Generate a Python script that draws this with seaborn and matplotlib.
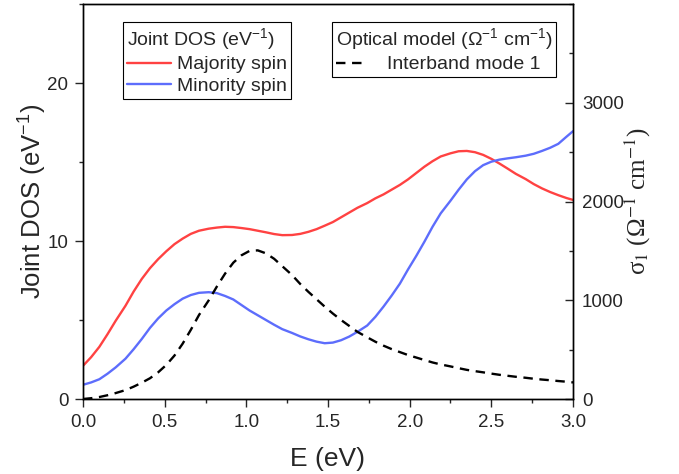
import pandas as pd
import matplotlib
matplotlib.use('Agg')
import matplotlib.pyplot as plt
import seaborn as sns
from matplotlib.ticker import MultipleLocator

# photon energy (eV), positions where the curves were read
energy = [0.00, 0.05, 0.10, 0.15, 0.20, 0.26, 0.31, 0.36, 0.41, 0.46,
          0.51, 0.56, 0.61, 0.66, 0.71, 0.77, 0.82, 0.87, 0.92, 0.97,
          1.02, 1.07, 1.12, 1.17, 1.22, 1.28, 1.33, 1.38, 1.43, 1.48,
          1.53, 1.58, 1.63, 1.68, 1.74, 1.79, 1.84, 1.89, 1.94, 1.99,
          2.04, 2.09, 2.14, 2.19, 2.25, 2.30, 2.35, 2.40, 2.45, 2.50,
          2.55, 2.60, 2.65, 2.71, 2.76, 2.81, 2.86, 2.91, 2.96, 3.00]

# joint DOS (eV^-1)
majority = [2.1, 2.65, 3.3, 4.1, 4.95, 5.9, 6.8, 7.6, 8.28, 8.85,
            9.35, 9.8, 10.15, 10.45, 10.65, 10.78, 10.85, 10.9, 10.88, 10.82,
            10.75, 10.65, 10.55, 10.44, 10.37, 10.38, 10.45, 10.58, 10.75, 10.97,
            11.2, 11.5, 11.8, 12.1, 12.4, 12.7, 12.95, 13.25, 13.55, 13.9,
            14.3, 14.7, 15.05, 15.35, 15.55, 15.68, 15.7, 15.62, 15.45, 15.2,
            14.9, 14.58, 14.25, 13.92, 13.6, 13.33, 13.1, 12.9, 12.72, 12.6]

minority = [0.9, 1.05, 1.25, 1.6, 2.0, 2.55, 3.15, 3.8, 4.5, 5.1,
            5.6, 6.0, 6.35, 6.58, 6.72, 6.76, 6.7, 6.52, 6.3, 5.95,
            5.6, 5.3, 5.0, 4.7, 4.42, 4.18, 3.96, 3.78, 3.63, 3.53,
            3.57, 3.72, 3.95, 4.25, 4.65, 5.2, 5.85, 6.55, 7.3, 8.2,
            9.05, 9.95, 10.9, 11.75, 12.55, 13.25, 13.9, 14.42, 14.8, 15.02,
            15.15, 15.23, 15.3, 15.4, 15.52, 15.7, 15.9, 16.15, 16.6, 16.95]

# optical conductivity, interband mode 1 (Ohm^-1 cm^-1)
interband = [0, 8, 20, 38, 60, 90, 125, 165, 210, 270,
             345, 440, 560, 700, 850, 1000, 1140, 1270, 1380, 1455,
             1500, 1505, 1475, 1420, 1345, 1255, 1165, 1085, 1010, 935,
             865, 800, 740, 680, 625, 580, 540, 505, 475, 445,
             420, 395, 370, 350, 330, 312, 295, 282, 270, 257,
             245, 235, 225, 215, 205, 197, 190, 182, 175, 168]

sns.set_theme(style='ticks')
plt.rcParams['font.family'] = ['Liberation Sans', 'DejaVu Sans']
plt.rcParams['mathtext.fontset'] = 'custom'
plt.rcParams['mathtext.rm'] = 'Liberation Sans'
plt.rcParams['mathtext.it'] = 'Liberation Sans'

df = pd.DataFrame({'E': energy, 'maj': majority, 'min': minority, 'ib': interband})

fig = plt.figure(figsize=(6.79, 4.74), dpi=100)
ax = fig.add_axes([83/679, 1 - 399/474, 490/679, 395/474])
ax2 = ax.twinx()

sns.lineplot(data=df, x='E', y='maj', ax=ax, color='#ff4242', lw=1.7, label='Majority spin', legend=False)
sns.lineplot(data=df, x='E', y='min', ax=ax, color='#5d6dfc', lw=1.7, label='Minority spin', legend=False)
sns.lineplot(data=df, x='E', y='ib', ax=ax2, color='black', lw=1.7, ls=(0, (4, 2.8)),
             label='Interband mode 1', legend=False)

ax.set_xlim(0, 3)
ax.set_ylim(0, 25)
ax2.set_ylim(0, 4000)

ax.xaxis.set_major_locator(MultipleLocator(0.5))
ax.xaxis.set_minor_locator(MultipleLocator(0.25))
ax.yaxis.set_minor_locator(MultipleLocator(5))
ax2.yaxis.set_minor_locator(MultipleLocator(500))
ax.set_yticks([0, 10, 20])
ax2.set_yticks([0, 1000, 2000, 3000])

for a in (ax, ax2):
    for s in a.spines.values():
        s.set_visible(True)
        s.set_color('black')
        s.set_linewidth(1.0)
ax.tick_params(which='major', direction='out', length=5.5, width=1, labelsize=13.5, pad=5)
ax.tick_params(which='minor', direction='out', length=2.8, width=1)
ax.tick_params(top=False, which='both')
ax2.tick_params(which='major', direction='in', length=5.5, width=1, labelsize=13.5, pad=6.5)
ax2.tick_params(which='minor', direction='in', length=2.8, width=1)

ax.set_xlabel('E (eV)', fontsize=19, labelpad=12)
ax.set_ylabel('Joint DOS (eV$^{-1}$)', fontsize=18.5, labelpad=-1)
ax2.set_ylabel('σ$_1$ (Ω$^{-1}$ cm$^{-1}$)', fontsize=18, labelpad=-1,
               family='Liberation Serif', math_fontfamily='stix')

leg1 = ax.legend(loc='upper left', bbox_to_anchor=(0.081, 0.954), borderaxespad=0,
                 title='Joint DOS (eV$^{-1}$)', fontsize=14, title_fontsize=14,
                 frameon=True, fancybox=False, edgecolor='black', framealpha=1,
                 borderpad=0.2, labelspacing=0.2, handlelength=2.3, handletextpad=0.3,
                 alignment='left')
leg1.get_frame().set_linewidth(0.8)

leg2 = ax2.legend(loc='upper left', bbox_to_anchor=(0.5076, 0.954), borderaxespad=0,
                  title='Optical model (Ω$^{-1}$ cm$^{-1}$)', fontsize=14, title_fontsize=14,
                  frameon=True, fancybox=False, edgecolor='black', framealpha=1,
                  borderpad=0.2, labelspacing=0.2, handlelength=1.6, handletextpad=1.03,
                  alignment='left')
leg2.get_frame().set_linewidth(0.8)

fig.savefig('out.png', dpi=100)
